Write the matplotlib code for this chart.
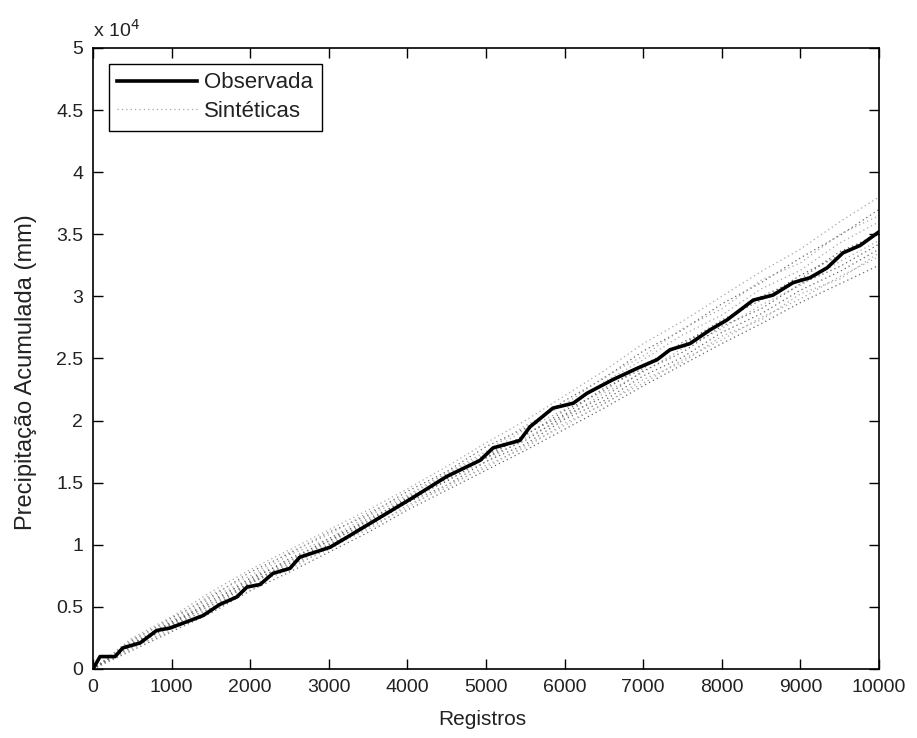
import matplotlib.pyplot as plt
from matplotlib.ticker import FuncFormatter

plt.rcParams['font.family'] = ['Liberation Sans', 'DejaVu Sans']

# Série observada (registros, precipitação acumulada em mm)
obs_x = [0, 90, 280, 380, 600, 810, 980, 1235, 1400, 1615, 1830, 1960, 2125,
         2290, 2506, 2630, 3015, 3230, 3650, 4070, 4500, 4925, 5090, 5430,
         5560, 5850, 6110, 6285, 6615, 6920, 7175, 7340, 7595, 7850, 8065,
         8400, 8650, 8905, 9120, 9340, 9540, 9760, 10000]
obs_y = [0, 1000, 1000, 1700, 2100, 3100, 3300, 3900, 4300, 5200, 5800, 6600,
         6800, 7700, 8100, 9000, 9800, 10600, 12200, 13800, 15500, 16800,
         17800, 18400, 19500, 21000, 21400, 22200, 23300, 24200, 24900,
         25700, 26200, 27300, 28100, 29700, 30100, 31100, 31500, 32300,
         33500, 34100, 35200]

# Séries sintéticas (lidas a cada 500 registros)
sint_x = list(range(0, 10001, 500))
sint_1 = [0, 2500, 4200, 6200, 8000, 9600, 11200, 12800, 14500, 16300, 18200,
          20000, 22000, 24000, 26200, 28000, 30000, 32000, 33800, 36000, 38000]
sint_2 = [0, 2300, 4100, 5800, 7800, 9300, 11000, 12400, 14300, 15900, 17900,
          19400, 21600, 23400, 25600, 27300, 29400, 31100, 33100, 34900, 37000]
sint_3 = [0, 2200, 3800, 5700, 7300, 9200, 10500, 12300, 13900, 15700, 17300,
          19300, 20900, 23100, 24900, 26900, 28500, 30600, 32100, 34300, 36000]
sint_4 = [0, 2000, 3800, 5300, 7300, 8700, 10500, 11900, 13800, 15300, 17200,
          18800, 20800, 22400, 24500, 26100, 28100, 29700, 31700, 33300, 35200]
sint_5 = [0, 1900, 3400, 5300, 6900, 8700, 10100, 11900, 13400, 15200, 16700,
          18600, 20200, 22200, 23900, 25800, 27400, 29300, 30900, 32800, 34500]
sint_6 = [0, 1800, 3500, 4900, 6900, 8300, 10000, 11500, 13400, 14800, 16700,
          18100, 20100, 21600, 23600, 25100, 27100, 28600, 30500, 32000, 33800]
sint_7 = [0, 1700, 3100, 4900, 6500, 8300, 9600, 11400, 13000, 14800, 16200,
          18000, 19600, 21400, 23000, 24900, 26500, 28300, 29800, 31600, 33200]
sint_8 = [0, 1500, 3000, 4500, 6300, 7800, 9400, 11000, 12800, 14400, 16000,
          17600, 19300, 21000, 22800, 24500, 26200, 27800, 29500, 31000, 32500]
sint_9 = [0, 2400, 3900, 6000, 7500, 9400, 10800, 12600, 14000, 15800, 17500,
          19600, 21300, 23500, 25200, 27400, 29000, 31300, 32700, 35000, 36500]
sint_10 = [0, 2100, 3600, 5500, 7100, 8900, 10300, 12100, 13600, 15500, 17000,
           18900, 20500, 22600, 24200, 26300, 27800, 30000, 31400, 33600, 35000]
sint_11 = [0, 1600, 3300, 4700, 6700, 8000, 9800, 11200, 13200, 14600, 16400,
           17800, 19800, 21300, 23300, 24700, 26800, 28100, 30200, 31400, 33500]
sint_12 = [0, 2000, 3700, 5100, 7000, 8500, 10300, 11700, 13700, 15100, 17000,
           18400, 20400, 21900, 24000, 25500, 27600, 29000, 31000, 32400, 34200]
sinteticas = [sint_1, sint_2, sint_3, sint_4, sint_5, sint_6, sint_7, sint_8,
              sint_9, sint_10, sint_11, sint_12]

fig = plt.figure(figsize=(9.17, 7.38), dpi=100)
ax = fig.add_axes([0.1014, 0.0935, 0.8572, 0.8415])

for i, s in enumerate(sinteticas):
    ax.plot(sint_x, s, linestyle=(0, (1, 2.5)), linewidth=0.9,
            color='0.4' if i % 2 else '0.65',
            label='Sintéticas' if i == 0 else None, zorder=1)
ax.plot(obs_x, obs_y, color='black', linewidth=2.6, label='Observada', zorder=3)

ax.set_xlim(0, 10000)
ax.set_ylim(0, 50000)
ax.set_xticks(range(0, 10001, 1000))
ax.set_yticks(range(0, 50001, 5000))
ax.yaxis.set_major_formatter(FuncFormatter(lambda v, p: '%g' % (v / 1e4)))
ax.tick_params(direction='in', length=7, width=1, top=True, right=True,
               labelsize=14, pad=7, colors='black', labelcolor='#222222')
for sp in ax.spines.values():
    sp.set_linewidth(1.2)

ax.text(0, 1.012, r'x 10$^4$', transform=ax.transAxes, fontsize=14,
        ha='left', va='bottom', color='#222222')

ax.set_xlabel('Registros', fontsize=15, color='#222222', va='center')
ax.set_ylabel('Precipitação Acumulada (mm)', fontsize=17, color='#222222',
              va='center')
ax.xaxis.set_label_coords(0.495, -0.082)
ax.yaxis.set_label_coords(-0.085, 0.478)

handles, labels = ax.get_legend_handles_labels()
leg = ax.legend(handles[::-1], labels[::-1], loc='upper left', fontsize=16,
                handlelength=3.6, handletextpad=0.3, fancybox=False,
                edgecolor='black', framealpha=1, borderaxespad=0.7,
                labelspacing=0.35, borderpad=0.4)
leg.get_frame().set_linewidth(1.0)
for t in leg.get_texts():
    t.set_color('#222222')

fig.savefig('out.png', dpi=100)
